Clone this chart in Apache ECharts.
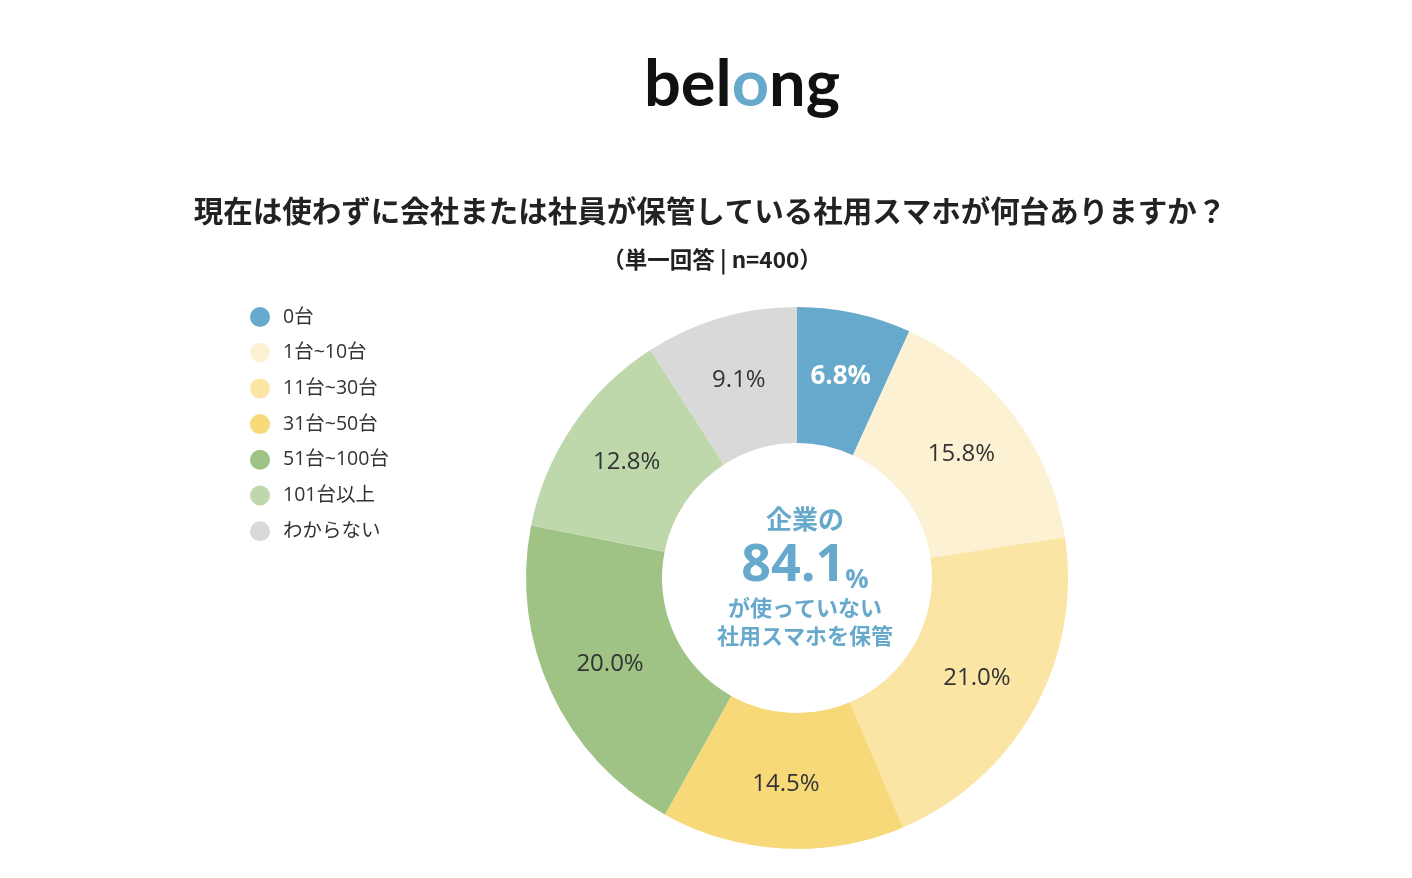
<!DOCTYPE html>
<html><head><meta charset="utf-8">
<script src="https://cdn.jsdelivr.net/npm/echarts@6/dist/echarts.min.js"></script>
<style>html,body{margin:0;padding:0;background:#fff}#c{width:1412px;height:878px}</style>
</head><body><div id="c"></div>
<script>
const categories = ['0台','1台~10台','11台~30台','31台~50台','51台~100台','101台以上','わからない'];
const values = [6.8, 15.8, 21.0, 14.5, 20.0, 12.8, 9.1];
const colors = ['#67a9cc','#fcf2d3','#fae5a5','#f8d979','#9ec385','#bed8ac','#d9d9d9'];
const titleText = '現在は使わずに会社または社員が保管している社用スマホが何台ありますか？';
const subText = '（単一回答 | n=400）';
const centerLines = ['企業の','84.1','%','が使っていない','社用スマホを保管'];

const chart = echarts.init(document.getElementById('c'));
const jp = '"Noto Sans CJK JP", "Noto Sans", sans-serif';
const num = '"Open Sans", "Noto Sans CJK JP", sans-serif';
chart.setOption({
  backgroundColor: '#fff',
  title: [
    { text: '{a|bel}{b|o}{a|ng}', left: 737, top: 48, textAlign: 'center',
      textStyle: { rich: {
        a: { fontFamily: 'Lato, "Noto Sans", sans-serif', fontWeight: 'bold', fontSize: 65, color: '#111' },
        b: { fontFamily: 'Lato, "Noto Sans", sans-serif', fontWeight: 'bold', fontSize: 65, color: '#67a9cc' } } } },
    { text: titleText, left: 705, top: 191, textAlign: 'center',
      textStyle: { fontFamily: jp, fontWeight: 'bold', fontSize: 29.5, color: '#222' } },
    { text: subText, left: 707, top: 243, textAlign: 'center',
      textStyle: { fontFamily: jp, fontWeight: 'bold', fontSize: 22.5, color: '#222' } },
    { text: '{s|' + centerLines[0] + '}\n{big|' + centerLines[1] + '}{pct|' + centerLines[2] + '}\n{m|' + centerLines[3] + '}\n{m|' + centerLines[4] + '}',
      left: 800, top: 495, textAlign: 'center',
      textStyle: { rich: {
        s: { fontFamily: jp, fontWeight: 'bold', fontSize: 26, color: '#67a9cc', lineHeight: 38, align: 'center' },
        big: { fontFamily: num, fontWeight: 'bold', fontSize: 52, color: '#67a9cc', lineHeight: 56 },
        pct: { fontFamily: num, fontWeight: 'bold', fontSize: 26, color: '#67a9cc', lineHeight: 56, verticalAlign: 'bottom' },
        m: { fontFamily: jp, fontWeight: 'bold', fontSize: 22, color: '#67a9cc', lineHeight: 28, align: 'center' } } } }
  ],
  legend: {
    orient: 'vertical', left: 245, top: 302, icon: 'circle',
    itemWidth: 20, itemHeight: 20, itemGap: 15.7,
    textStyle: { fontFamily: num, fontSize: 19.5, color: '#333', padding: [0, 0, 0, 8] },
    data: categories
  },
  series: [{
    type: 'pie', center: [797, 578], radius: [135, 271], startAngle: 90, clockwise: true,
    silent: true,
    color: colors,
    label: { show: true, position: 'inside', formatter: p => p.value.toFixed(1) + '%',
      fontFamily: num, fontSize: 24, color: '#333' },
    labelLine: { show: false },
    data: categories.map((n, i) => i === 0 ? { name: n, value: values[i], label: { color: '#fff', fontWeight: 'bold', fontSize: 26 } } : { name: n, value: values[i] })
  }]
});
</script></body></html>
